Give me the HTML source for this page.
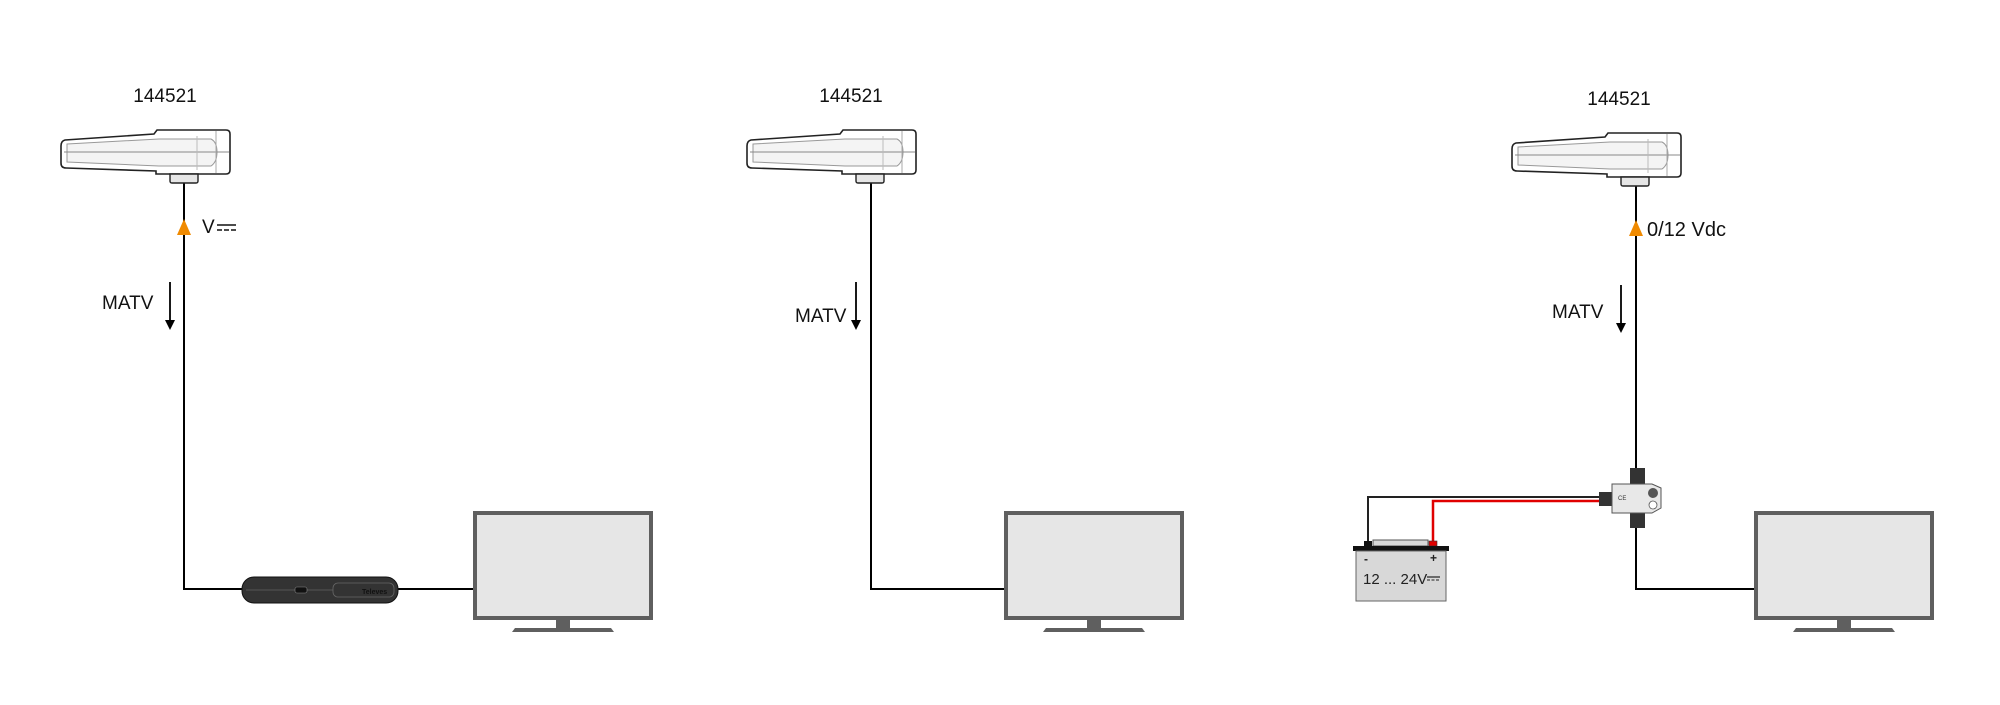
<!DOCTYPE html>
<html><head><meta charset="utf-8"><style>
html,body{margin:0;padding:0;background:#fff;}
svg{display:block;font-family:"Liberation Sans",sans-serif;}
</style></head><body>
<svg width="2000" height="705" viewBox="0 0 2000 705" xmlns="http://www.w3.org/2000/svg">
<defs>
<g id="ant">
  <path d="M4 10 Q0 11 0 16 L0 33 Q0 38 5 38 L95 41 L95 44 L165 44 Q169 44 169 40 L169 4 Q169 0 165 0 L96 0 L93 4 Z" fill="#fff" stroke="#222" stroke-width="1.6"/>
  <path d="M6 14 L98 9 L150 9 Q156 12 156 22 Q156 32 150 36 L98 36 L6 32 Z" fill="#f4f4f4" stroke="#999" stroke-width="1"/>
  <line x1="3" y1="22" x2="168" y2="22" stroke="#888" stroke-width="1"/>
  <line x1="155" y1="1" x2="155" y2="43" stroke="#aaa" stroke-width="1"/>
  <line x1="136" y1="6" x2="136" y2="40" stroke="#bbb" stroke-width="1"/>
  <path d="M109 44 L109 51 Q109 53 111 53 L135 53 Q137 53 137 51 L137 44 Z" fill="#e6e6e6" stroke="#222" stroke-width="1.4"/>
</g>
<g id="tv">
  <rect x="2" y="2" width="176" height="105" fill="#e6e6e6" stroke="#5f5f5f" stroke-width="4"/>
  <rect x="83" y="109" width="14" height="8" fill="#5f5f5f"/>
  <path d="M42 117 L138 117 L141 121 L39 121 Z" fill="#5f5f5f"/>
</g>
<g id="arr">
  <line x1="0" y1="0" x2="0" y2="40" stroke="#000" stroke-width="1.8"/>
  <path d="M-5 38 L5 38 L0 48 Z" fill="#000"/>
</g>
</defs>

<g font-size="19" fill="#111">
<text x="165" y="102" text-anchor="middle">144521</text>
<text x="851" y="102" text-anchor="middle">144521</text>
<text x="1619" y="105" text-anchor="middle">144521</text>
<text x="102" y="309">MATV</text>
<text x="795" y="322">MATV</text>
<text x="1552" y="318">MATV</text>
<text x="202" y="233">V</text>
<text x="1647" y="236" font-size="20">0/12 Vdc</text>
</g>
<line x1="217" y1="225" x2="236" y2="225" stroke="#111" stroke-width="1.5"/>
<line x1="217" y1="230" x2="222" y2="230" stroke="#111" stroke-width="1.5"/>
<line x1="224" y1="230" x2="229" y2="230" stroke="#111" stroke-width="1.5"/>
<line x1="231" y1="230" x2="236" y2="230" stroke="#111" stroke-width="1.5"/>

<!-- Panel 1 -->
<polyline points="184,183 184,589 245,589" fill="none" stroke="#000" stroke-width="2"/>
<line x1="396" y1="589" x2="475" y2="589" stroke="#000" stroke-width="2"/>
<use href="#ant" x="61" y="130"/>
<path d="M184 219 L191 235 L177 235 Z" fill="#f08a00"/>
<use href="#arr" x="170" y="282"/>
<rect x="242" y="577" width="156" height="26" rx="12" fill="#333" stroke="#111" stroke-width="1"/>
<line x1="246" y1="590" x2="394" y2="590" stroke="#555" stroke-width="1"/>
<rect x="295" y="587" width="12" height="6" rx="2" fill="#111" stroke="#888" stroke-width="0.6"/>
<rect x="333" y="583" width="61" height="14" rx="5" fill="#333" stroke="#666" stroke-width="0.8"/>
<text x="362" y="594" font-size="7" fill="#111" font-weight="bold">Televes</text>
<use href="#tv" x="473" y="511"/>

<!-- Panel 2 -->
<polyline points="871,183 871,589 1006,589" fill="none" stroke="#000" stroke-width="2"/>
<use href="#ant" x="747" y="130"/>
<use href="#arr" x="856" y="282"/>
<use href="#tv" x="1004" y="511"/>

<!-- Panel 3 -->
<line x1="1636" y1="185" x2="1636" y2="470" stroke="#000" stroke-width="2"/>
<polyline points="1636,526 1636,589 1756,589" fill="none" stroke="#000" stroke-width="2"/>
<use href="#ant" x="1512" y="133"/>
<path d="M1636 220 L1643 236 L1629 236 Z" fill="#f08a00"/>
<use href="#arr" x="1621" y="285"/>
<use href="#tv" x="1754" y="511"/>
<!-- wires -->
<polyline points="1368,543 1368,497 1602,497" fill="none" stroke="#222" stroke-width="2"/>
<polyline points="1433,543 1433,501 1602,501" fill="none" stroke="#e00000" stroke-width="2.5"/>
<!-- splitter -->
<rect x="1630" y="468" width="15" height="16" fill="#333"/>
<rect x="1630" y="512" width="15" height="16" fill="#333"/>
<rect x="1599" y="492" width="14" height="14" fill="#333"/>
<path d="M1612 484 L1652 484 L1661 488 L1661 508 L1652 513 L1612 513 Z" fill="#e8e8e8" stroke="#555" stroke-width="1"/>
<circle cx="1653" cy="493" r="5" fill="#555"/>
<circle cx="1653" cy="505" r="4" fill="#fff" stroke="#555" stroke-width="0.8"/>
<text x="1618" y="500" font-size="6" fill="#333">CE</text>
<!-- battery -->
<rect x="1373" y="540" width="55" height="6" fill="#d8d8d8" stroke="#555" stroke-width="1"/>
<rect x="1364" y="541" width="8" height="5" fill="#111"/>
<rect x="1429" y="541" width="8" height="5" fill="#e00000" stroke="#333" stroke-width="0.6"/>
<rect x="1353" y="546" width="96" height="5" fill="#111"/>
<rect x="1356" y="551" width="90" height="50" fill="#d8d8d8" stroke="#666" stroke-width="1"/>
<text x="1364" y="563" font-size="12" font-weight="bold" fill="#222">-</text>
<text x="1430" y="562" font-size="12" font-weight="bold" fill="#222">+</text>
<text x="1363" y="584" font-size="15" fill="#222">12 ... 24V</text>
<line x1="1427" y1="577" x2="1440" y2="577" stroke="#222" stroke-width="1.2"/>
<line x1="1427" y1="580" x2="1440" y2="580" stroke="#222" stroke-width="1" stroke-dasharray="3,1.5"/>
</svg>
</body></html>
